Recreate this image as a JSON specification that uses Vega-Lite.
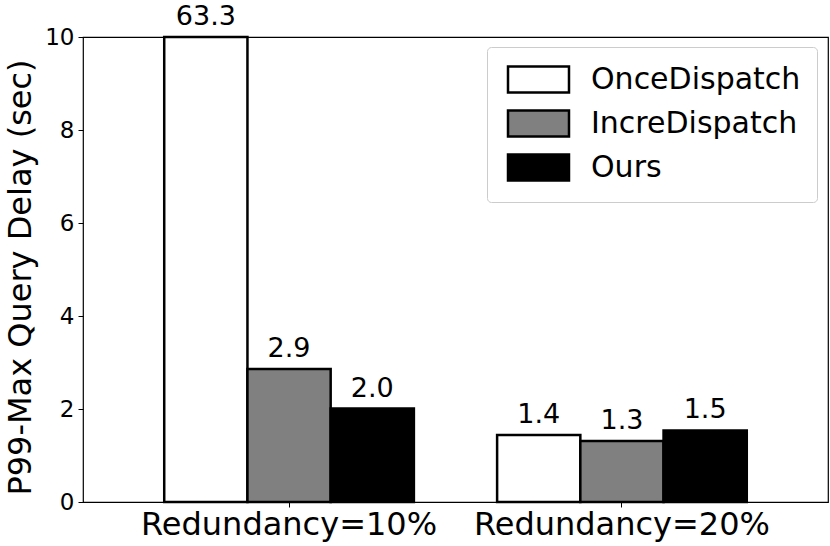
{
  "$schema": "https://vega.github.io/schema/vega-lite/v6.json",
  "width": 745,
  "height": 465,
  "autosize": {"type": "none"},
  "padding": {"left": 83, "top": 37, "right": 2, "bottom": 44},
  "background": "white",
  "config": {
    "font": "DejaVu Sans",
    "view": {"stroke": "black", "strokeWidth": 1.2},
    "axis": {"grid": false, "domainColor": "black", "tickColor": "black", "labelColor": "black", "titleColor": "black", "labelFont": "DejaVu Sans", "titleFont": "DejaVu Sans", "titleFontWeight": "normal"}
  },
  "data": {
    "values": [
      {"group": "Redundancy=10%", "series": "OnceDispatch", "value": 63.3},
      {"group": "Redundancy=10%", "series": "IncreDispatch", "value": 2.86},
      {"group": "Redundancy=10%", "series": "Ours", "value": 2.01},
      {"group": "Redundancy=20%", "series": "OnceDispatch", "value": 1.44},
      {"group": "Redundancy=20%", "series": "IncreDispatch", "value": 1.31},
      {"group": "Redundancy=20%", "series": "Ours", "value": 1.54}
    ]
  },
  "encoding": {
    "x": {
      "field": "group", "type": "nominal",
      "scale": {"paddingInner": 0.25, "paddingOuter": 0.244},
      "axis": {"title": null, "labelAngle": 0, "labelFontSize": 32, "labelLimit": 500, "tickSize": 5, "labelPadding": 2, "domain": false}
    },
    "xOffset": {
      "field": "series", "type": "nominal",
      "scale": {"domain": ["OnceDispatch", "IncreDispatch", "Ours"], "paddingInner": 0, "paddingOuter": 0}
    },
    "y": {
      "field": "value", "type": "quantitative",
      "scale": {"domain": [0, 10], "clamp": true, "nice": false},
      "axis": {"title": "P99-Max Query Delay (sec)", "values": [0, 2, 4, 6, 8, 10], "labelFontSize": 23, "titleFontSize": 32, "titleLimit": 700, "titleY": 240, "tickSize": 5, "labelPadding": 4, "titlePadding": 7, "domain": false}
    }
  },
  "layer": [
    {
      "mark": {"type": "bar", "stroke": "black", "strokeWidth": 2.5, "opacity": 1},
      "encoding": {
        "color": {
          "field": "series", "type": "nominal",
          "scale": {"domain": ["OnceDispatch", "IncreDispatch", "Ours"], "range": ["white", "#808080", "black"]},
          "legend": {
            "title": null,
            "orient": "none",
            "legendX": 404,
            "legendY": 10,
            "symbolType": "M-2,-0.86H2V0.86H-2Z",
            "symbolSize": 930,
            "symbolOffset": 19,
            "symbolStrokeColor": "black",
            "symbolStrokeWidth": 2.5,
            "symbolOpacity": 1,
            "labelFontSize": 30,
            "labelFont": "DejaVu Sans",
            "labelColor": "black",
            "labelLimit": 400,
            "labelOffset": 36,
            "rowPadding": 7,
            "padding": 16,
            "strokeColor": "#cccccc",
            "cornerRadius": 4,
            "fillColor": "white"
          }
        }
      }
    },
    {
      "mark": {"type": "text", "baseline": "alphabetic", "dy": -12, "fontSize": 27, "font": "DejaVu Sans", "color": "black"},
      "encoding": {
        "text": {"field": "value", "type": "quantitative", "format": ".1f"}
      }
    }
  ]
}
